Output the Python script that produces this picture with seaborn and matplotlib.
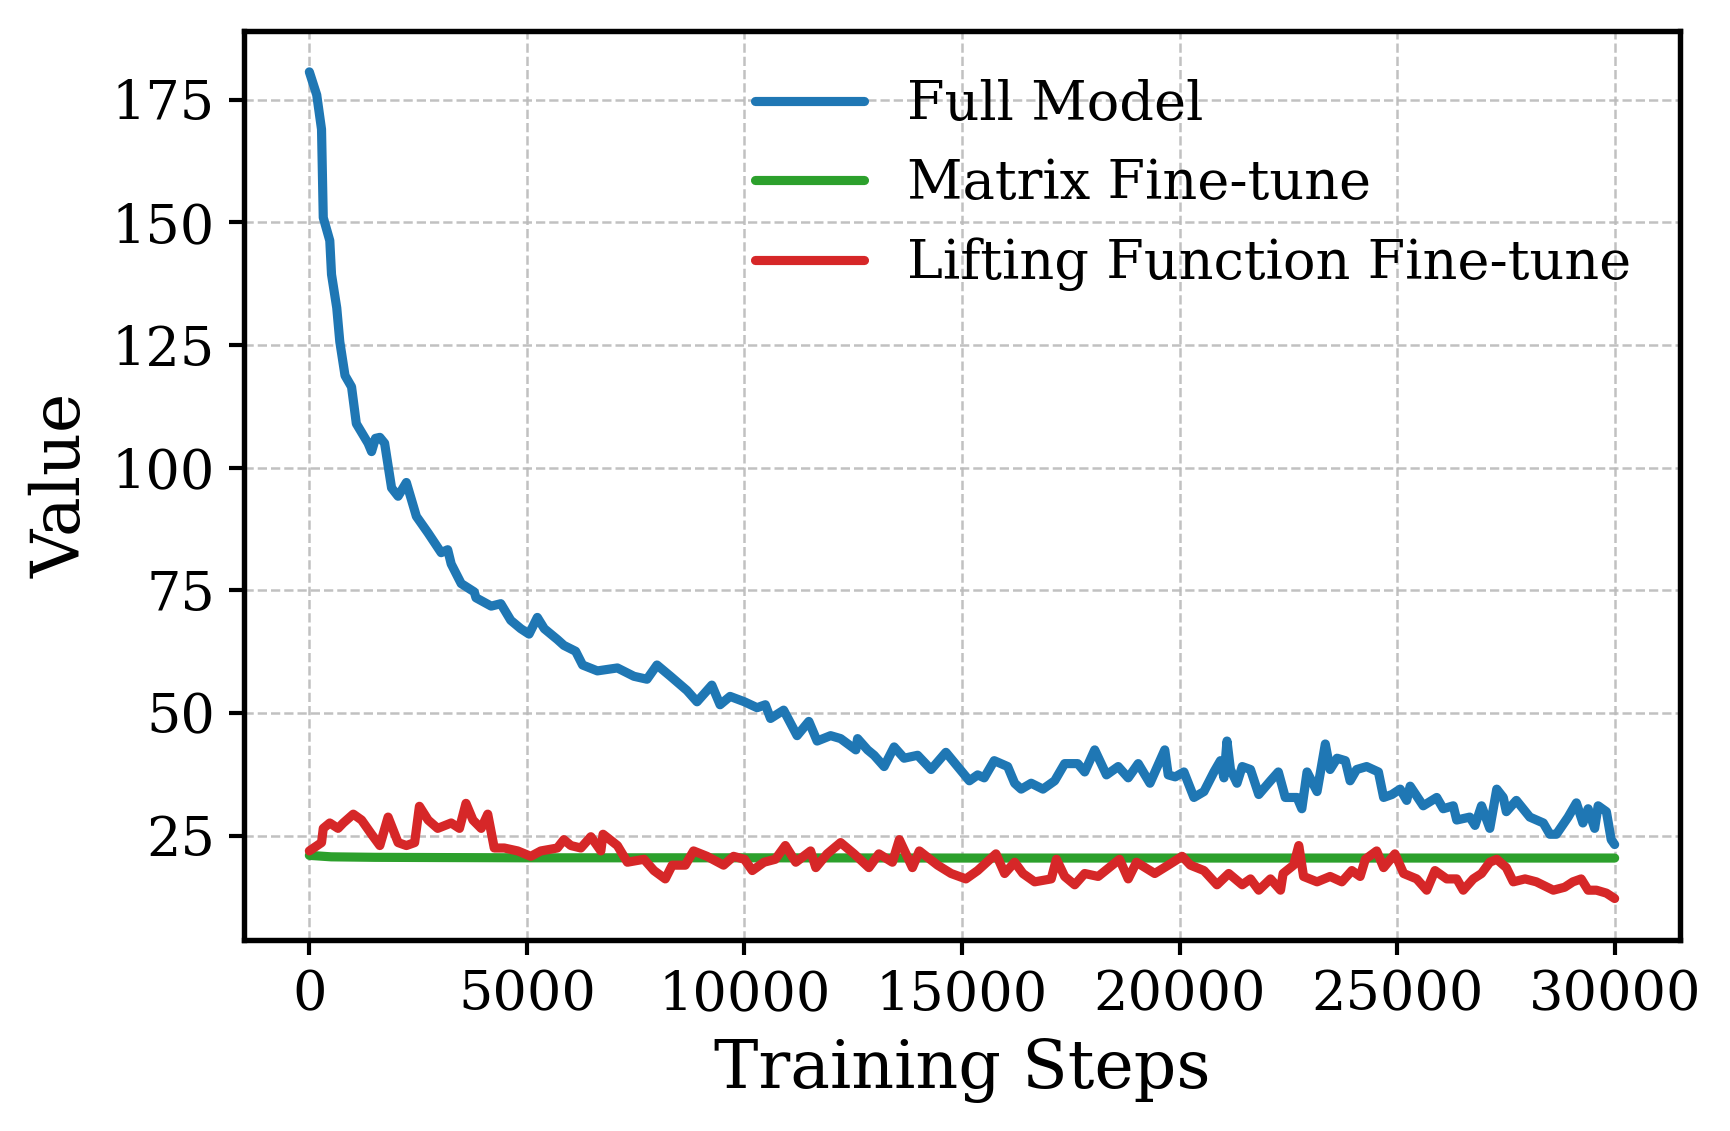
import matplotlib
matplotlib.use('Agg')
import matplotlib.pyplot as plt
import seaborn as sns
import numpy as np

# values
blue_steps = [0, 170, 280, 320, 470, 510, 630, 700, 820, 970, 1080, 1350, 1430, 1520, 1620, 1730,
              1890, 2040, 2230, 2460, 2730, 3030, 3180, 3260, 3490, 3790, 3830, 4180, 4400, 4630,
              4860, 5050, 5240, 5400, 5700, 5850, 6120, 6280, 6620, 7080, 7460, 7760, 7990, 8300,
              8680, 8910, 9250, 9440, 9670, 10000, 10290, 10480, 10600, 10900, 11210, 11480, 11670,
              11980, 12210, 12560, 12600, 12830, 12980, 13210, 13440, 13670, 13980, 14290, 14630,
              14900, 15170, 15360, 15510, 15740, 16050, 16210, 16360, 16590, 16860, 17130, 17360,
              17660, 17820, 18050, 18320, 18590, 18820, 19050, 19320, 19660, 19740, 19900, 20100,
              20330, 20560, 20790, 20940, 21020, 21090, 21170, 21320, 21440, 21630, 21820, 22090,
              22270, 22430, 22700, 22810, 22930, 23160, 23350, 23460, 23620, 23810, 23920, 24070,
              24300, 24570, 24690, 24880, 25070, 25220, 25300, 25600, 25910, 26060, 26290, 26370,
              26670, 26790, 26940, 27130, 27290, 27440, 27510, 27740, 28050, 28360, 28510, 28660,
              28930, 29120, 29270, 29390, 29540, 29620, 29810, 29920, 30000]
blue_vals = [180.7, 176, 169, 151, 146.3, 139.4, 132.6, 125.7, 118.8, 116.5, 109, 105, 103.3, 106, 106.2, 105,
             95.9, 94.2, 97, 90.1, 86.7, 82.7, 83.3, 80.4, 76.4, 74.7, 73.5, 71.8, 72.3, 68.9,
             67.2, 66.1, 69.5, 67.2, 65, 63.8, 62.6, 59.8, 58.6, 59.2, 57.5, 56.9, 59.8, 57.5,
             54.6, 52.3, 55.7, 51.7, 53.4, 52.3, 51.1, 51.7, 48.9, 50.6, 45.4, 48.3, 44.3,
             45.4, 44.8, 42.5, 44.8, 42.5, 41.4, 39.1, 43.1, 40.8, 41.4, 38.5, 42,
             39.1, 36.2, 37.4, 36.8, 40.3, 39.1, 35.7, 34.5, 35.7, 34.5, 36.2, 39.7,
             39.7, 38, 42.5, 37.4, 39.1, 36.8, 39.7, 35.7, 42.5, 37.4, 37, 38,
             32.8, 34, 38, 40.3, 36.8, 44.3, 38.5, 35.7, 39.1, 38.5, 33.4, 36.2,
             38, 32.8, 32.8, 30.5, 38, 34, 43.7, 38.5, 40.8, 40.3, 36.2, 38.5,
             39.1, 38, 32.8, 33.4, 34.5, 32.2, 35.1, 31.1, 32.8, 30.5, 31.1, 28.2,
             28.8, 27.1, 31.1, 26.5, 34.5, 32.8, 29.9, 32.2, 28.8, 27.6, 25.3, 25.3,
             28.8, 31.7, 27.6, 30.5, 26.5, 31.1, 29.9, 24.2, 23.2]

green_steps = [0, 250, 500, 1000, 1500, 3000, 5000, 10000, 15000, 20000, 25000, 30000]
green_vals = [21.0, 20.85, 20.7, 20.65, 20.6, 20.55, 20.5, 20.5, 20.45, 20.45, 20.45, 20.45]

red_steps = [0, 280, 320, 470, 660, 780, 1010, 1200, 1430, 1620, 1810, 2040, 2230, 2420, 2530,
             2730, 2950, 3260, 3450, 3600, 3760, 3950, 4100, 4250, 4480, 4790, 5090, 5320, 5700,
             5850, 6010, 6240, 6470, 6700, 6750, 7080, 7310, 7690, 7920, 8180, 8340, 8640, 8830,
             9140, 9520, 9750, 10000, 10180, 10450, 10710, 10940, 11180, 11520, 11640, 11900,
             12210, 12520, 12860, 13090, 13400, 13560, 13860, 14020, 14440, 14750, 15090, 15360,
             15780, 15980, 16210, 16400, 16670, 17050, 17170, 17360, 17590, 17820, 18130, 18620,
             18820, 19010, 19430, 19740, 20060, 20250, 20560, 20860, 21130, 21440, 21630, 21820,
             22090, 22320, 22380, 22620, 22740, 22850, 23160, 23460, 23730, 23960, 24150, 24270,
             24530, 24690, 24950, 25150, 25450, 25680, 25870, 26140, 26370, 26520, 26750, 26940,
             27130, 27290, 27510, 27670, 27940, 28200, 28590, 28850, 29040, 29230, 29390, 29580,
             29810, 30000]
red_vals = [21.9, 23.6, 26.5, 27.6, 26.5, 27.6, 29.4, 28.2, 25.3, 23, 28.8, 23.6, 23, 23.6, 31,
            28.2, 26.5, 27.6, 26.5, 31.6, 28.2, 26.5, 29.4, 22.5, 22.5, 21.9, 20.8, 21.9, 22.5,
            24.2, 23, 22.5, 24.8, 21.9, 25.3, 23, 19.6, 20.2, 17.9, 16.2, 19, 19, 21.9,
            20.8, 19, 20.8, 20.2, 17.9, 19.6, 20.2, 23, 19.6, 21.9, 18.5, 21.3,
            23.6, 21.3, 18.5, 21.3, 19.6, 24.2, 18.5, 21.9, 19, 17.3, 16.2, 17.9,
            21.3, 17.3, 19.6, 17.3, 15.6, 16.2, 20.2, 16.7, 15, 17.3, 16.7, 20.2,
            16.2, 19.6, 17.3, 19, 20.8, 19, 17.9, 15, 17.3, 15, 16.2, 13.9,
            16.2, 13.9, 17.3, 19, 23, 16.7, 15.6, 16.7, 15.6, 17.9, 16.7, 20.2,
            21.9, 18.5, 21.3, 17.3, 16.2, 13.9, 17.9, 16.2, 16.2, 13.9, 16.2, 17.3,
            19.6, 20.2, 18.5, 15.6, 16.2, 15.6, 13.9, 14.5, 15.6, 16.2, 13.9, 13.9,
            13.3, 12.2]

sns.set_style('ticks')
plt.rcParams['font.family'] = ['DejaVu Serif']
plt.rcParams['text.color'] = 'black'
plt.rcParams['axes.labelcolor'] = 'black'
plt.rcParams['xtick.color'] = 'black'
plt.rcParams['ytick.color'] = 'black'

fig = plt.figure(figsize=(1731 / 300, 1131 / 300), dpi=300)
ax = fig.add_axes([0.141, 0.169, 0.8295, 0.804])

sns.lineplot(x=blue_steps, y=blue_vals, ax=ax, color='#1f77b4', linewidth=2.2, label='Full Model')
sns.lineplot(x=green_steps, y=green_vals, ax=ax, color='#2ca02c', linewidth=2.2, label='Matrix Fine-tune')
sns.lineplot(x=red_steps, y=red_vals, ax=ax, color='#d62728', linewidth=2.2, label='Lifting Function Fine-tune')

ax.set_xlabel('Training Steps', fontsize=16)
ax.set_ylabel('Value', fontsize=16)
ax.tick_params(labelsize=13, width=1, length=3.5)
ax.set_xticks([0, 5000, 10000, 15000, 20000, 25000, 30000])
ax.set_yticks([25, 50, 75, 100, 125, 150, 175])
ax.grid(True, linestyle='--', linewidth=0.6, color='#bbbbbb', alpha=0.9)
for s in ax.spines.values():
    s.set_linewidth(1.3)
    s.set_color('black')

ax.legend(loc='upper right', frameon=False, fontsize=13)

fig.savefig('out.png', dpi=300)
